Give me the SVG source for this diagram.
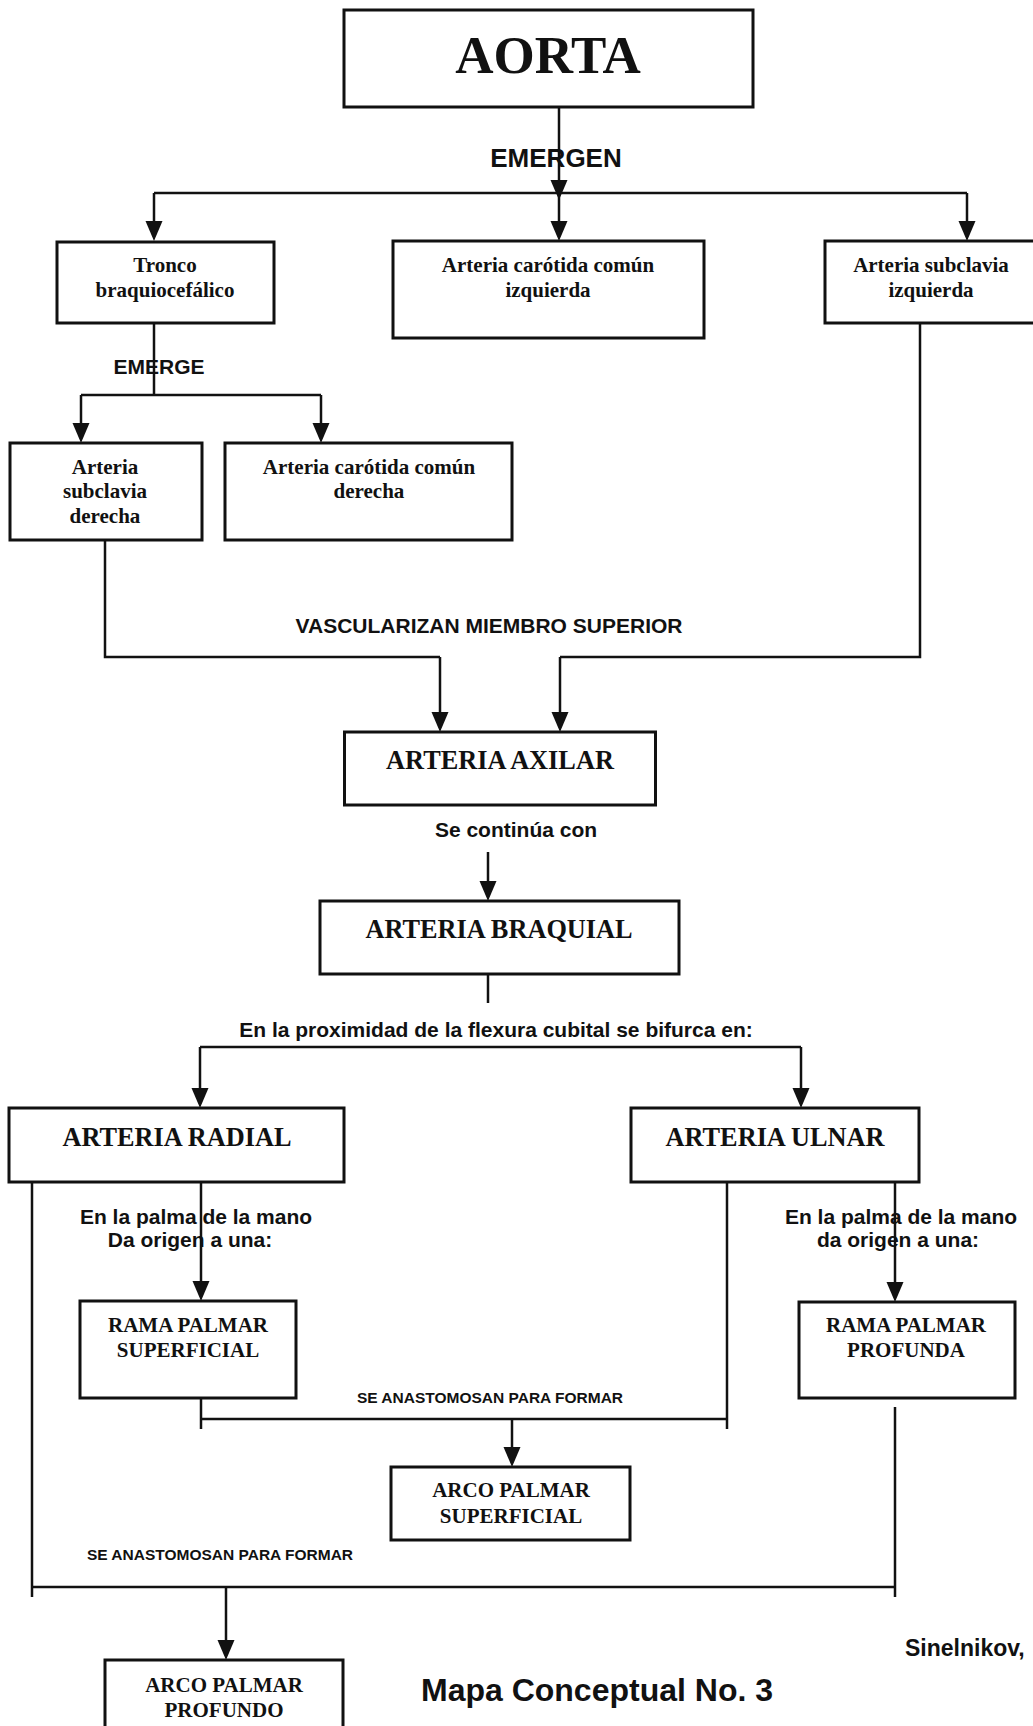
<svg xmlns="http://www.w3.org/2000/svg" width="1033" height="1726" viewBox="0 0 1033 1726">
  <defs>
    <style>
      .box { fill: #fff; stroke: #111; stroke-width: 3; }
      .ln { fill: none; stroke: #111; stroke-width: 2.5; }
      .arr { fill: none; stroke: #111; stroke-width: 2.5; marker-end: url(#head); }
      .serif { font-family: "Liberation Serif", "Times New Roman", serif; font-weight: bold; fill: #111; text-anchor: middle; }
      .sans { font-family: "Liberation Sans", Arial, sans-serif; font-weight: bold; fill: #111; text-anchor: middle; }
      .s21 { font-size: 21px; }
      .s26 { font-size: 26.3px; }
    </style>
    <marker id="head" markerUnits="userSpaceOnUse" markerWidth="20" markerHeight="18" refX="16" refY="8.5" orient="auto">
      <path d="M0,0 L20,8.5 L0,17 z" fill="#111"/>
    </marker>
  </defs>
  <rect width="1033" height="1726" fill="#fff"/>

  <!-- connectors -->
  <g id="connectors">
    <!-- aorta branches -->
    <line class="arr" x1="559" y1="107" x2="559" y2="196"/>
    <line class="ln" x1="154" y1="193" x2="967" y2="193"/>
    <line class="arr" x1="154" y1="193" x2="154" y2="237"/>
    <line class="arr" x1="559" y1="193" x2="559" y2="237"/>
    <line class="arr" x1="967" y1="193" x2="967" y2="237"/>
    <!-- tronco braquiocefalico branches -->
    <line class="ln" x1="154" y1="323" x2="154" y2="395"/>
    <line class="ln" x1="81" y1="395" x2="321" y2="395"/>
    <line class="arr" x1="81" y1="395" x2="81" y2="439"/>
    <line class="arr" x1="321" y1="395" x2="321" y2="439"/>
    <!-- subclavias to axilar -->
    <polyline class="ln" points="105,540 105,657 440,657"/>
    <line class="arr" x1="440" y1="657" x2="440" y2="728"/>
    <polyline class="ln" points="920,323 920,657 560,657"/>
    <line class="arr" x1="560" y1="657" x2="560" y2="728"/>
    <!-- axilar to braquial -->
    <line class="arr" x1="488" y1="852" x2="488" y2="897"/>
    <!-- braquial bifurcation -->
    <line class="ln" x1="488" y1="954" x2="488" y2="1003"/>
    <line class="ln" x1="200" y1="1047" x2="801" y2="1047"/>
    <line class="arr" x1="200" y1="1047" x2="200" y2="1104"/>
    <line class="arr" x1="801" y1="1047" x2="801" y2="1104"/>
    <!-- radial / ulnar to palmar branches -->
    <line class="arr" x1="201" y1="1182" x2="201" y2="1297"/>
    <line class="arr" x1="895" y1="1182" x2="895" y2="1298"/>
    <!-- superficial arch -->
    <line class="ln" x1="201" y1="1398" x2="201" y2="1429"/>
    <line class="ln" x1="727" y1="1182" x2="727" y2="1429"/>
    <line class="ln" x1="201" y1="1419" x2="727" y2="1419"/>
    <line class="arr" x1="512" y1="1419" x2="512" y2="1463"/>
    <!-- deep arch -->
    <line class="ln" x1="32" y1="1163" x2="32" y2="1597"/>
    <line class="ln" x1="895" y1="1407" x2="895" y2="1597"/>
    <line class="ln" x1="32" y1="1587" x2="895" y2="1587"/>
    <line class="arr" x1="226" y1="1587" x2="226" y2="1656"/>
  </g>

  <!-- connector labels -->
  <g id="labels">
    <text class="sans" x="556" y="167" font-size="26">EMERGEN</text>
    <text class="sans s21" x="159" y="374">EMERGE</text>
    <text class="sans s21" x="489" y="633">VASCULARIZAN MIEMBRO SUPERIOR</text>
    <text class="sans s21" x="516" y="837">Se continúa con</text>
    <text class="sans s21" x="496" y="1037">En la proximidad de la flexura cubital se bifurca en:</text>
    <text class="sans s21" x="196" y="1224">En la palma de la mano</text>
    <text class="sans s21" x="190" y="1247">Da origen a una:</text>
    <text class="sans s21" x="901" y="1224">En la palma de la mano</text>
    <text class="sans s21" x="898" y="1247">da origen a una:</text>
    <text class="sans" x="490" y="1403" font-size="15.5">SE ANASTOMOSAN PARA FORMAR</text>
    <text class="sans" x="220" y="1560" font-size="15.5">SE ANASTOMOSAN PARA FORMAR</text>
  </g>

  <!-- nodes -->
  <g id="aorta">
    <rect class="box" x="344" y="10" width="409" height="97"/>
    <text class="serif" x="548" y="73" font-size="53">AORTA</text>
  </g>
  <g id="tronco-braquiocefalico">
    <rect class="box" x="57" y="242" width="217" height="81"/>
    <text class="serif s21" x="165" y="272">Tronco</text>
    <text class="serif s21" x="165" y="297">braquiocefálico</text>
  </g>
  <g id="carotida-izquierda">
    <rect class="box" x="393" y="241" width="311" height="97"/>
    <text class="serif s21" x="548" y="272">Arteria carótida común</text>
    <text class="serif s21" x="548" y="297">izquierda</text>
  </g>
  <g id="subclavia-izquierda">
    <rect class="box" x="825" y="241" width="220" height="82"/>
    <text class="serif s21" x="931" y="272">Arteria subclavia</text>
    <text class="serif s21" x="931" y="297">izquierda</text>
  </g>
  <g id="subclavia-derecha">
    <rect class="box" x="10" y="443" width="192" height="97"/>
    <text class="serif s21" x="105" y="474">Arteria</text>
    <text class="serif s21" x="105" y="498">subclavia</text>
    <text class="serif s21" x="105" y="523">derecha</text>
  </g>
  <g id="carotida-derecha">
    <rect class="box" x="225" y="443" width="287" height="97"/>
    <text class="serif s21" x="369" y="474">Arteria carótida común</text>
    <text class="serif s21" x="369" y="498">derecha</text>
  </g>
  <g id="axilar">
    <rect class="box" x="344.5" y="732" width="311" height="73"/>
    <text class="serif s26" x="500" y="769">ARTERIA AXILAR</text>
  </g>
  <g id="braquial">
    <rect class="box" x="320" y="901" width="359" height="73"/>
    <text class="serif s26" x="499" y="938">ARTERIA BRAQUIAL</text>
  </g>
  <g id="radial">
    <rect class="box" x="9" y="1108" width="335" height="74"/>
    <text class="serif s26" x="177" y="1146">ARTERIA RADIAL</text>
  </g>
  <g id="ulnar">
    <rect class="box" x="631" y="1108" width="288" height="74"/>
    <text class="serif s26" x="775" y="1146">ARTERIA ULNAR</text>
  </g>
  <g id="rama-superficial">
    <rect class="box" x="80" y="1301" width="216" height="97"/>
    <text class="serif s21" x="188" y="1332">RAMA PALMAR</text>
    <text class="serif s21" x="188" y="1357">SUPERFICIAL</text>
  </g>
  <g id="rama-profunda">
    <rect class="box" x="799" y="1302" width="216" height="96"/>
    <text class="serif s21" x="906" y="1332">RAMA PALMAR</text>
    <text class="serif s21" x="906" y="1357">PROFUNDA</text>
  </g>
  <g id="arco-superficial">
    <rect class="box" x="391" y="1467" width="239" height="73"/>
    <text class="serif s21" x="511" y="1497">ARCO PALMAR</text>
    <text class="serif s21" x="511" y="1523">SUPERFICIAL</text>
  </g>
  <g id="arco-profundo">
    <rect class="box" x="105" y="1660" width="238" height="80"/>
    <text class="serif s21" x="224" y="1692">ARCO PALMAR</text>
    <text class="serif s21" x="224" y="1717">PROFUNDO</text>
  </g>

  <!-- caption -->
  <g id="caption">
    <text class="sans" x="597" y="1701" font-size="32">Mapa Conceptual No. 3</text>
    <text class="sans" x="905" y="1656" font-size="23" style="text-anchor:start">Sinelnikov,</text>
  </g>
</svg>
